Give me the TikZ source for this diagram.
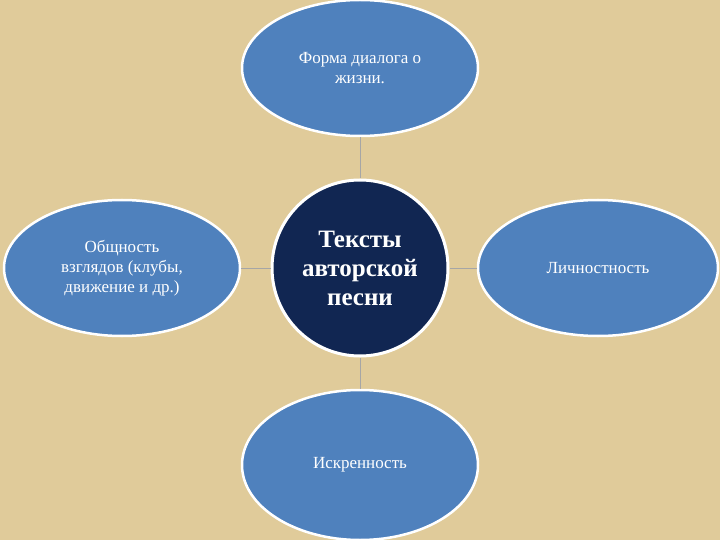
\documentclass[tikz,border=0pt]{standalone}
\usepackage{fontspec}
\setmainfont{Liberation Serif}
\usetikzlibrary{shapes.geometric}
\definecolor{bg}{RGB}{224,203,154}
\definecolor{ell}{RGB}{79,129,189}
\definecolor{navy}{RGB}{17,38,82}
\tikzset{
 el/.style={ellipse,draw=white,line width=2.5pt,fill=ell,text=white,font=\fontsize{17}{20}\selectfont,align=center,inner sep=0pt},
 conn/.style={draw=gray!70,line width=1pt}
}
\begin{document}
\begin{tikzpicture}[x=1pt,y=-1pt]
\fill[bg] (0,0) rectangle (720,540);
\useasboundingbox (0,0) rectangle (720,540);
\node[el,minimum width=236,minimum height=136] (t) at (360,68) {Форма диалога о\\жизни.};
\node[el,minimum width=236,minimum height=136] (l) at (122,268) {Общность\\взглядов (клубы,\\движение и др.)};
\node[el,minimum width=240,minimum height=136] (r) at (598,268) {Личностность};
\node[el,minimum width=236,minimum height=150] (b) at (360,465) {Искренность};
\node[circle,draw=white,line width=3pt,fill=navy,text=white,minimum size=176,align=center,inner sep=0pt,font=\fontsize{25}{29}\selectfont\bfseries] (c) at (360,268) {Тексты\\авторской\\песни};
\draw[conn] (c) -- (t);
\draw[conn] (c) -- (l);
\draw[conn] (c) -- (r);
\draw[conn] (c) -- (b);
\end{tikzpicture}
\end{document}
